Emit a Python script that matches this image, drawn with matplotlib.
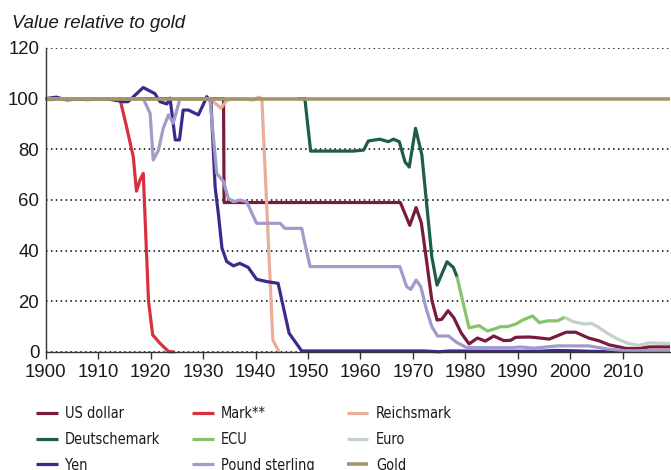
import matplotlib
matplotlib.use('Agg')
import matplotlib.pyplot as plt
from matplotlib import font_manager

# --- data (x = year, y = value relative to gold, 1900 = 100) ---
usd_x = [1900, 1933.9, 1934.0, 1967.6, 1969.4, 1970.6, 1971.6, 1972.6, 1973.6, 1974.6, 1975.5,
         1976.7, 1977.8, 1979.2, 1980.7, 1982.3, 1983.8, 1985.4, 1987.3, 1988.6, 1989.6,
         1992.2, 1993.4, 1996.0, 1997.9, 1999.2, 2001.0, 2003.5, 2005.5, 2007.4, 2009.3,
         2010.6, 2013.2, 2015.0, 2019]
usd_y = [100, 100, 59, 59, 50, 57, 51, 36, 20.5, 12.6, 12.9,
         16.3, 13.5, 7.5, 3.2, 5.5, 4.3, 6.3, 4.5, 4.6, 5.8,
         5.9, 5.7, 5.1, 6.7, 7.8, 7.8, 5.5, 4.4, 2.8, 2.0,
         1.4, 1.4, 2.0, 2.0]

mark_x = [1900, 1901, 1903, 1905, 1908, 1910, 1914.2, 1915.4, 1916.7, 1917.3, 1918.0, 1918.6,
          1919.1, 1919.6, 1920.4, 1921.8, 1923.4, 1924.6]
mark_y = [100, 99.6, 100, 100, 99.6, 100, 99.5, 89, 77, 63.5, 68, 70.5,
          45, 20, 6.7, 3.4, 0.2, 0]

reichs_x = [1924, 1931.3, 1933.4, 1934.5, 1935.8, 1939.6, 1940.6, 1941.2, 1943.3, 1944.5]
reichs_y = [100, 100, 96.2, 99.3, 100, 99.5, 100.6, 100, 4.7, 0]

dm_x = [1948, 1949.4, 1950.5, 1958.6, 1960.6, 1961.5, 1963.7, 1965.3, 1966.3, 1967.4,
        1968.5, 1969.3, 1970.5, 1971.7, 1973.6, 1974.6, 1976.5, 1977.7, 1978.4]
dm_y = [100, 100, 79.3, 79.3, 79.7, 83.3, 84, 83, 84, 83,
        75, 73, 88.3, 77.8, 37.6, 26.4, 35.6, 33.4, 29.7]

ecu_x = [1978.4, 1980.7, 1982.6, 1984.2, 1985.4, 1986.7, 1988.0, 1989.6, 1990.9, 1992.8,
         1994.1, 1995.7, 1997.6, 1998.9]
ecu_y = [29.7, 9.5, 10.4, 8.3, 9, 10, 10, 11, 12.6, 14.2,
         11.6, 12.3, 12.3, 13.7]

euro_x = [1998.9, 2000.5, 2002.7, 2004.0, 2005.2, 2007.2, 2009.1, 2011.0, 2013.0, 2014.9, 2017.4, 2019]
euro_y = [13.7, 12, 11, 11.3, 10, 7.2, 5, 3.4, 2.6, 3.6, 3.4, 3.4]

yen_x = [1900, 1902, 1904, 1906, 1908, 1910, 1912, 1914.8, 1915.7, 1918.6, 1920.8, 1921.8,
         1923.1, 1923.7, 1924.7, 1925.5, 1926.2, 1927.2, 1928.1, 1929.1, 1930.0, 1930.7,
         1931.5, 1932.3, 1932.9, 1933.6, 1934.5, 1935.8, 1937.0, 1938.6, 1940.2, 1942.1,
         1944.3, 1946.4, 1948.8, 1960, 1972, 1975, 1977, 1985, 1994, 1997, 2000, 2005, 2019]
yen_y = [100, 100.6, 99.5, 99.8, 100, 100, 99.8, 98.8, 98.8, 104.4, 102, 98.8,
         97.9, 100.2, 83.7, 83.7, 95.5, 95.5, 94.6, 93.6, 97.5, 100.8,
         98.8, 65, 54.8, 41, 35.7, 34, 35, 33.4, 28.7, 27.8,
         27.1, 7.4, 0.4, 0.4, 0.4, 0.1, 0.4, 0.3, 0.3, 0.6, 0.5, 0.2, 0.3]

pound_x = [1900, 1918.6, 1919.9, 1920.5, 1921.5, 1922.4, 1923.4, 1924.3, 1925.6, 1931.3,
           1932.6, 1933.9, 1934.8, 1935.8, 1937.0, 1938.3, 1940.2, 1944.7, 1945.6, 1948.8,
           1949.4, 1950.4, 1967.5, 1968.8, 1969.6, 1970.6, 1971.5, 1972.6, 1973.6, 1974.7,
           1976.8, 1978.4, 1980.3, 1989.0, 1990.5, 1993.0, 1997.5, 2003.5, 2007.0, 2010.5, 2019]
pound_y = [100, 100, 94.2, 75.8, 79.7, 88.3, 93.6, 90.3, 100, 100,
           70.5, 67.2, 60.7, 59.3, 60, 59.3, 50.8, 50.8, 48.8, 48.8,
           42.9, 33.7, 33.7, 25.8, 24.7, 28.4, 25.8, 16.6, 10, 6.3,
           6.3, 3.7, 1.7, 1.7, 2.0, 1.5, 2.4, 2.4, 1.2, 0.5, 0.5]

gold_x = [1900, 2019]
gold_y = [100, 100]

series = [
    ('US dollar', usd_x, usd_y, '#7a1a3c'),
    ('Mark**', mark_x, mark_y, '#d9303f'),
    ('Reichsmark', reichs_x, reichs_y, '#e9ad99'),
    ('Deutschemark', dm_x, dm_y, '#1d5e45'),
    ('ECU', ecu_x, ecu_y, '#86c46a'),
    ('Euro', euro_x, euro_y, '#c5d0c7'),
    ('Yen', yen_x, yen_y, '#3b2a8c'),
    ('Pound sterling', pound_x, pound_y, '#a19acb'),
    ('Gold', gold_x, gold_y, '#a39669'),
]

plt.rcParams['font.family'] = ['Liberation Sans', 'DejaVu Sans']


def pick_narrow_font():
    # the legend in the reference is set in a condensed face; use one if any is installed
    found = []
    for f in font_manager.fontManager.ttflist:
        condensed = ('Narrow' in f.name or 'Condensed' in f.name
                     or f.stretch in ('condensed', 'semi-condensed'))
        if condensed and f.style == 'normal' and f.weight in (400, 'normal', 'regular'):
            rank = 0 if 'Liberation' in f.name else 1
            found.append((rank, f.fname))
    if found:
        found.sort()
        return font_manager.FontProperties(fname=found[0][1])
    return font_manager.FontProperties(family='Liberation Sans')


fig = plt.figure(figsize=(6.71, 4.70), dpi=100)
ax = fig.add_axes([0.0681, 0.2511, 0.9304, 0.6468])

lines = {}
for name, xs, ys, col in series:
    lw = 2.6 if name == 'Gold' else 2.3
    ln, = ax.plot(xs, ys, color=col, lw=lw, label=name, clip_on=False,
                  solid_joinstyle='round', solid_capstyle='butt')
    lines[name] = ln

ax.set_xlim(1900, 2019)
ax.set_ylim(0, 120)
ax.set_xticks(range(1900, 2011, 10))
ax.set_yticks(range(0, 121, 20))
ax.yaxis.grid(True, color='black', linestyle=(0, (1, 2.2)), lw=1.1)
ax.set_axisbelow(True)
for s in ['top', 'right']:
    ax.spines[s].set_visible(False)
for s in ['left', 'bottom']:
    ax.spines[s].set_color('#333333')
    ax.spines[s].set_linewidth(1.0)
ax.tick_params(axis='y', length=0, pad=4.6, labelsize=13.4, labelcolor='#1a1a1a')
ax.tick_params(axis='x', length=5, width=1, color='#333333', pad=3.6,
               labelsize=13.4, labelcolor='#1a1a1a')

fig.text(11.7 / 671, 1 - 28 / 470, 'Value relative to gold', style='italic',
         fontsize=13.4, color='#1a1a1a', va='baseline')

# size the legend face so 'Deutschemark' is about as wide as in the reference (~94 px)
leg_font = pick_narrow_font()
leg_font.set_size(12.8)
probe = fig.text(0, 0, 'Deutschemark', fontproperties=leg_font)
w = probe.get_window_extent(renderer=fig.canvas.get_renderer()).width
probe.remove()
leg_font.set_size(min(12.8, 12.8 * 96 / w))
fs = leg_font.get_size_in_points() * 100 / 72  # px

# legend fills column-first, so reorder to get the row layout of the reference
order = ['US dollar', 'Deutschemark', 'Yen', 'Mark**', 'ECU', 'Pound sterling',
         'Reichsmark', 'Euro', 'Gold']
fig.legend([lines[n] for n in order], order, ncol=3, loc='upper left',
           bbox_to_anchor=(36 / 671, 1 - 406 / 470), frameon=False,
           prop=leg_font, handlelength=21.5 / fs, handletextpad=7.5 / fs,
           columnspacing=32 / fs, labelspacing=(24.3 - 0.93 * fs) / fs,
           borderpad=0, borderaxespad=0, labelcolor='#1a1a1a')

fig.savefig('out.png', dpi=100)
